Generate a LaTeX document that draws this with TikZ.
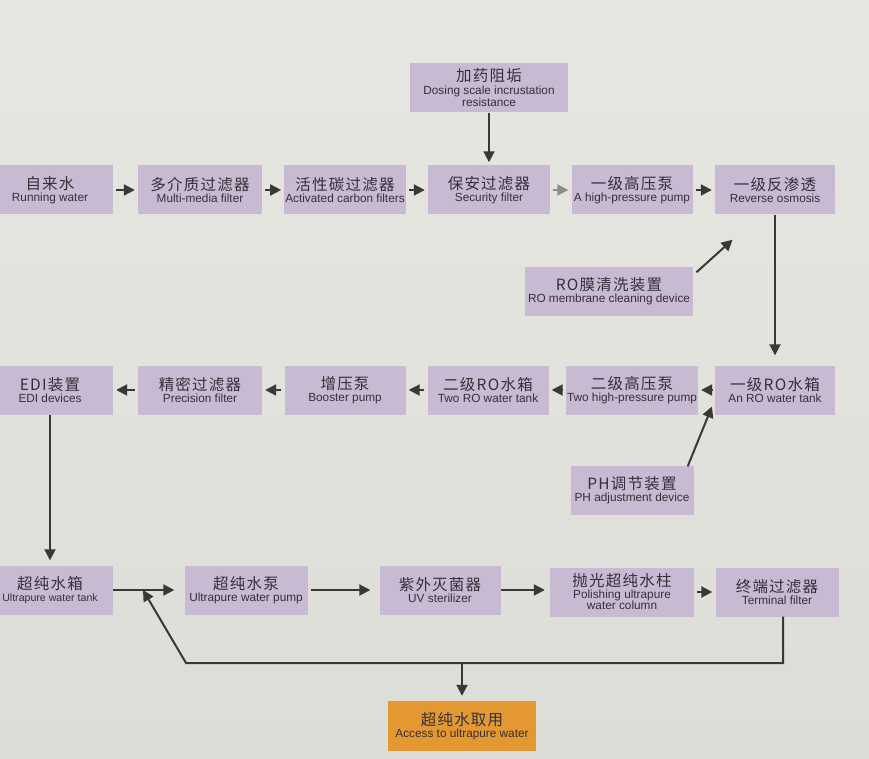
\documentclass[tikz,border=0pt]{standalone}
\usepackage{fontspec}
\setmainfont{Liberation Sans}
\newfontfamily\cjk[LetterSpace=8]{Noto Sans CJK SC}
\usetikzlibrary{arrows.meta}
\definecolor{paper}{RGB}{230,231,225}
\definecolor{paperlow}{RGB}{219,221,214}
\definecolor{lilac}{RGB}{201,186,211}
\definecolor{amber}{RGB}{227,152,50}
\definecolor{ink}{RGB}{52,48,56}
\newcommand{\zh}[1]{{\cjk\fontsize{15.5}{15.5}\selectfont #1}}

\begin{document}
\begin{tikzpicture}[x=1pt,y=-1pt,
    box/.style={fill=lilac,text=ink,align=center,inner sep=1pt,minimum height=49pt,font=\fontsize{11.8}{12.5}\selectfont},
    flow/.style={draw=black!78,line width=2pt,-{Triangle[length=11pt,width=11pt]},shorten <=3pt,shorten >=3pt}]
        \useasboundingbox (0,0) rectangle (869,759);
        \shade[top color=paper,bottom color=paperlow] (0,0) rectangle (869,759);
        % dosing on top
        \node [box,minimum width=158pt] (dose) at (489,88) {\zh{加药阻垢}\\Dosing scale incrustation\\resistance};
        % 1st row, left to right
        \node [box,minimum width=126pt] (water) at (50,190) {\zh{自来水}\\Running water};
        \node [box,minimum width=124pt] (mmf) at (200,190) {\zh{多介质过滤器}\\Multi-media filter};
        \node [box,minimum width=121pt] (carbon) at (345,190) {\zh{活性碳过滤器}\\Activated carbon filters};
        \node [box,minimum width=122pt] (safe) at (489,190) {\zh{保安过滤器}\\Security filter};
        \node [box,minimum width=121pt] (hpa) at (632,190) {\zh{一级高压泵}\\A high-pressure pump};
        \node [box,minimum width=120pt] (roa) at (775,190) {\zh{一级反渗透}\\Reverse osmosis};
        \node [box,minimum width=168pt] (clean) at (609,291) {\zh{RO膜清洗装置}\\RO membrane cleaning device};
        % 2nd row, right to left
        \node [box,minimum width=120pt] (tanka) at (775,390) {\zh{一级RO水箱}\\An RO water tank};
        \node [box,minimum width=129pt] (hpb) at (632,390) {\zh{二级高压泵}\\Two high-pressure pump};
        \node [box,minimum width=121pt] (tankb) at (488,390) {\zh{二级RO水箱}\\Two RO water tank};
        \node [box,minimum width=121pt] (boost) at (345,390) {\zh{增压泵}\\Booster pump};
        \node [box,minimum width=124pt] (prec) at (200,390) {\zh{精密过滤器}\\Precision filter};
        \node [box,minimum width=126pt] (edi) at (50,390) {\zh{EDI装置}\\EDI devices};
        \node [box,minimum width=123pt] (ph) at (632,490) {\zh{PH调节装置}\\PH adjustment device};
        % 3rd row
        \node [box,minimum width=126pt] (uptank) at (50,590) {\zh{超纯水箱}\\{\fontsize{10.6}{12}\selectfont Ultrapure water tank}};
        \node [box,minimum width=123pt] (uppump) at (246,590) {\zh{超纯水泵}\\Ultrapure water pump};
        \node [box,minimum width=121pt] (uv) at (440,590) {\zh{紫外灭菌器}\\UV sterilizer};
        \node [box,minimum width=144pt,font=\fontsize{11.8}{11.5}\selectfont] (polish) at (622,592) {\zh{抛光超纯水柱}\\Polishing ultrapure\\water column};
        \node [box,minimum width=123pt] (term) at (777,592) {\zh{终端过滤器}\\Terminal filter};
        \node [box,fill=amber,minimum width=148pt,minimum height=50pt] (take) at (462,726) {\zh{超纯水取用}\\Access to ultrapure water};
        \coordinate (back) at (186,663);
        \coordinate (join) at (143,590);

        \draw[flow,shorten <=0pt] (dose) -- (safe);
        \draw[flow] (water) -- (mmf);
        \draw[flow] (mmf) -- (carbon);
        \draw[flow] (carbon) -- (safe);
        \draw[flow,draw=black!45] (safe) -- (hpa); % lighter one
        \draw[flow] (hpa) -- (roa);
        \draw[flow] ([shift={(1,8)}]clean.north east) -- ([shift={(20,23)}]roa.south west);
        \draw[flow,shorten <=0pt,shorten >=10pt] (roa) -- (tanka);
        \draw[flow] (tanka) -- (hpb);
        \draw[flow] (hpb) -- (tankb);
        \draw[flow] (tankb) -- (boost);
        \draw[flow] (boost) -- (prec);
        \draw[flow] (prec) -- (edi);
        \draw[flow,shorten <=0pt] ([shift={(-6,1)}]ph.north east) -- ([shift={(15,-11)}]hpb.south east);
        \draw[flow,shorten <=0pt,shorten >=5pt] (edi) -- (uptank);
        \draw[flow,shorten <=0pt,shorten >=10pt] (uptank) -- (uppump);
        \draw[flow,shorten >=9pt] (uppump) -- (uv);
        \draw[flow,shorten <=0pt,shorten >=5pt] (uv) -- (polish.west |- uv);
        \draw[flow] (polish) -- (term);
        \draw[flow,shorten <=0pt,shorten >=0pt] ([shift={(6,0)}]term.south) |- (back) -- (join); % back to the tank line
        \draw[flow,shorten <=0pt,shorten >=5pt] (take.north |- back) -- (take);
    \end{tikzpicture}
\end{document}
